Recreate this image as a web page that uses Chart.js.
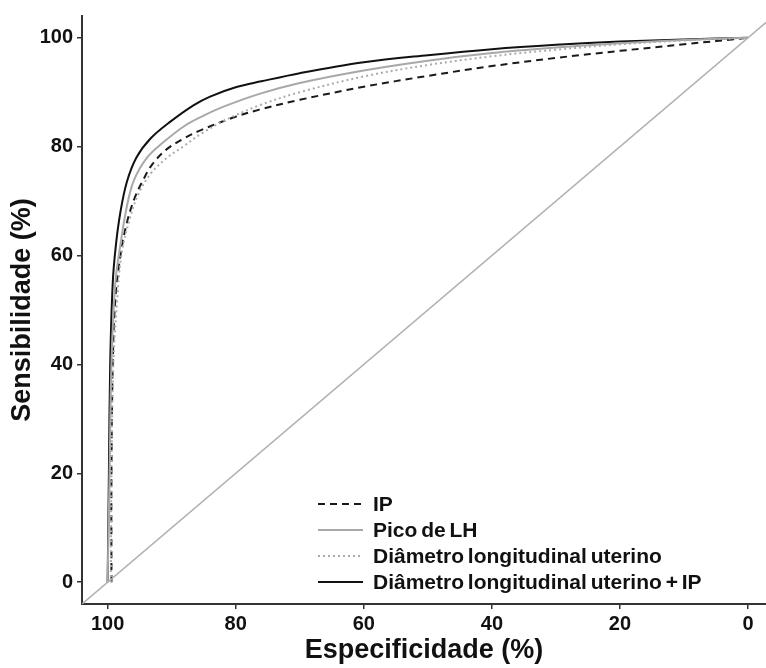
<!DOCTYPE html>
<html>
<head>
<meta charset="utf-8">
<script src="https://cdn.jsdelivr.net/npm/chart.js@4"></script>
<style>
  html, body { margin: 0; padding: 0; background: #fff; }
  #wrap { width: 766px; height: 668px; }
</style>
</head>
<body>
<div id="wrap"><canvas id="roc"></canvas></div>
<script>
// Curvas ROC (especificidade, sensibilidade em %)
const tickValues = [0, 20, 40, 60, 80, 100];

const ipEsp  = [99.4, 99.4, 99.2, 98.8, 98.0, 97.0, 95.8, 94.4, 93.0, 90.8, 88.1, 85.5, 80.5, 76.3, 70, 60, 50, 40, 30, 20, 10, 0];
const ipSens = [0, 20, 40, 52, 60, 66, 70.5, 74, 76.8, 79.5, 81.5, 83.0, 85.3, 86.8, 88.6, 91.0, 93.0, 94.8, 96.3, 97.6, 98.8, 100];

const lhEsp  = [100, 99.7, 99.4, 98.8, 98.0, 97.0, 95.9, 93.9, 91.3, 88, 85, 82, 76.3, 70, 60, 50, 40, 30, 20, 10, 0];
const lhSens = [0, 20, 40, 55, 62, 69, 73.8, 77.9, 80.8, 83.8, 85.7, 87.3, 89.7, 91.7, 94.0, 95.8, 97.2, 98.2, 99.0, 99.6, 100];

const dluEsp  = [99.5, 99.4, 99.1, 98.5, 97.8, 96.6, 95.2, 93.3, 90.8, 88.1, 85.5, 81.4, 76.3, 70, 60, 50, 40, 30, 20, 10, 0];
const dluSens = [0, 20, 40, 52, 60.5, 66.5, 71.3, 75, 77.9, 80.1, 82.3, 85.0, 87.6, 90.0, 92.9, 95.0, 96.6, 97.8, 98.8, 99.5, 100];

const combEsp  = [100, 99.8, 99.6, 99.2, 98.7, 98.0, 97.0, 95.5, 93.3, 90.2, 86.6, 84, 80, 76, 70, 60, 50, 40, 30, 20, 10, 0];
const combSens = [0, 20, 40, 55, 62, 68, 73.5, 78.0, 81.5, 84.6, 87.6, 89.2, 90.9, 92.0, 93.5, 95.5, 96.8, 97.9, 98.7, 99.3, 99.7, 100];

const refEsp  = [104, -4];
const refSens = [-4, 104];

const labels = ['IP', 'Pico de LH', 'Diâmetro longitudinal uterino', 'Diâmetro longitudinal uterino + IP'];

const toPts = (xs, ys) => xs.map((x, i) => ({ x: x, y: ys[i] }));

const FONT = '"Liberation Sans", Arial, Helvetica, sans-serif';

// legenda desenhada dentro da área do gráfico
const insideLegend = {
    id: 'insideLegend',
    afterDraw(chart) {
        const ctx = chart.ctx;
        const area = chart.chartArea;
        const x0 = area.left + 236, x1 = area.left + 281, tx = area.left + 291;
        ctx.save();
        ctx.font = 'bold 21px ' + FONT;
        ctx.textBaseline = 'middle';
        if ('wordSpacing' in ctx) ctx.wordSpacing = '-2px';
        chart.data.datasets.forEach(ds => {
            if (!ds.inLegend) return;
            const y = area.bottom - 100 + ds.legendRow * 26;
            ctx.beginPath();
            ctx.setLineDash(ds.borderDash || []);
            ctx.strokeStyle = ds.borderColor;
            ctx.lineWidth = ds.borderWidth;
            ctx.moveTo(x0, y);
            ctx.lineTo(x1, y);
            ctx.stroke();
            ctx.setLineDash([]);
            ctx.fillStyle = '#111';
            ctx.fillText(ds.label, tx, y + 1);
        });
        ctx.restore();
    }
};

const line = (label, pts, color, dash, row) => ({
    label: label,
    data: pts,
    showLine: true,
    borderColor: color,
    borderWidth: 2,
    borderDash: dash,
    pointRadius: 0,
    fill: false,
    tension: 0.35,
    inLegend: true,
    legendRow: row
});

new Chart(document.getElementById('roc'), {
    type: 'scatter',
    data: {
        datasets: [
            {
                label: 'ref',
                data: toPts(refEsp, refSens),
                showLine: true,
                borderColor: '#b0b0b0',
                borderWidth: 1.5,
                pointRadius: 0,
                inLegend: false
            },
            line(labels[2], toPts(dluEsp, dluSens), '#acacac', [2, 3], 2),
            line(labels[1], toPts(lhEsp, lhSens), '#a8a8a8', [], 1),
            line(labels[0], toPts(ipEsp, ipSens), '#1a1a1a', [7, 5], 0),
            line(labels[3], toPts(combEsp, combSens), '#111111', [], 3)
        ]
    },
    options: {
        responsive: true,
        maintainAspectRatio: false,
        animation: false,
        layout: { padding: { top: 14, right: 0, left: 0, bottom: 0 } },
        plugins: {
            legend: { display: false },
            tooltip: { enabled: false }
        },
        scales: {
            x: {
                type: 'linear',
                reverse: true,
                min: -2.8,
                max: 104,
                afterBuildTicks: s => { s.ticks = tickValues.map(v => ({ value: v })); },
                afterFit: s => { s.height = 64; },
                grid: { display: true, drawOnChartArea: false, drawTicks: true, tickLength: 5, color: '#333', lineWidth: 1.5 },
                border: { display: true, color: '#333', width: 2 },
                ticks: { color: '#111', padding: 3, maxRotation: 0, font: { family: FONT, size: 20, weight: 'bold' } },
                title: { display: true, text: 'Especificidade (%)', color: '#111', padding: { top: 0, bottom: 1 }, font: { family: FONT, size: 27, weight: 'bold' } }
            },
            y: {
                type: 'linear',
                min: -4,
                max: 104,
                afterBuildTicks: s => { s.ticks = tickValues.map(v => ({ value: v })); },
                afterFit: s => { s.width = 82; },
                grid: { display: true, drawOnChartArea: false, drawTicks: true, tickLength: 5, color: '#333', lineWidth: 1.5 },
                border: { display: true, color: '#333', width: 2 },
                ticks: { color: '#111', padding: 4, font: { family: FONT, size: 20, weight: 'bold' } },
                title: { display: true, text: 'Sensibilidade (%)', color: '#111', padding: { top: 6, bottom: 0 }, font: { family: FONT, size: 27, weight: 'bold' } }
            }
        }
    },
    plugins: [insideLegend]
});
</script>
</body>
</html>
